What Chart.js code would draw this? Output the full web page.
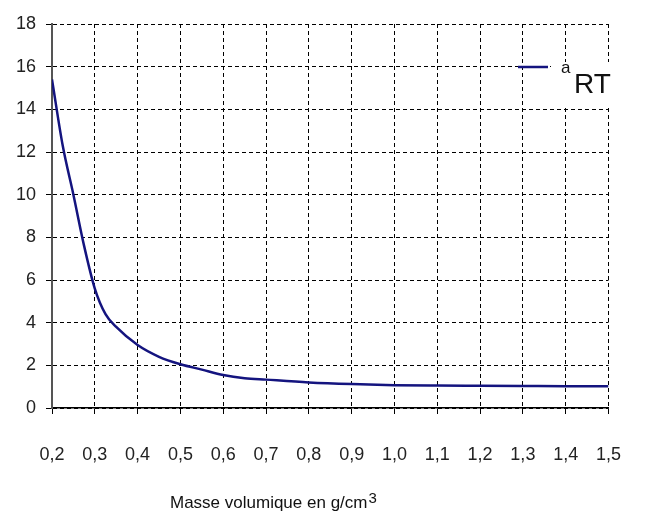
<!DOCTYPE html>
<html>
<head>
<meta charset="utf-8">
<script src="https://cdn.jsdelivr.net/npm/chart.js@4"></script>
<style>
  html, body { margin: 0; padding: 0; background: #fff; }
  #wrap { width: 651px; height: 519px; }
</style>
</head>
<body>
<div id="wrap"><canvas id="myChart" width="651" height="519"></canvas></div>
<script>
const masse = [0.2, 0.225, 0.25, 0.275, 0.3, 0.325, 0.35, 0.4, 0.45, 0.5, 0.55, 0.6, 0.65, 0.7, 0.8, 0.9, 1.0, 1.1, 1.2, 1.3, 1.4, 1.5];
const aRT = [15.4, 12.3, 10.0, 7.6, 5.6, 4.4, 3.8, 2.95, 2.4, 2.05, 1.8, 1.55, 1.4, 1.33, 1.2, 1.12, 1.07, 1.05, 1.04, 1.03, 1.02, 1.02];
const serieLabel = 'RT';
const serieSup = 'a';
const axeTitre = 'Masse volumique en g/cm';
const axeSup = '3';

const police = '"Liberation Sans", Arial, sans-serif';
const bleu = '#14147f';

const extras = {
    id: 'extras',
    afterDraw(chart) {
        const c = chart.ctx;
        c.save();
        // legende
        c.fillStyle = '#fff';
        c.fillRect(551, 62, 64, 45);
        c.strokeStyle = bleu;
        c.lineWidth = 2.5;
        c.beginPath();
        c.moveTo(518, 67);
        c.lineTo(548, 67);
        c.stroke();
        c.fillStyle = '#111';
        c.textBaseline = 'alphabetic';
        c.textAlign = 'left';
        c.font = '17px ' + police;
        c.fillText(serieSup, 561, 73);
        c.font = '28px ' + police;
        c.fillText(serieLabel, 574, 93);
        // titre axe x
        c.font = '17px ' + police;
        const x0 = 170;
        const w = c.measureText(axeTitre).width;
        c.fillText(axeTitre, x0, 508);
        c.font = '15px ' + police;
        c.fillText(axeSup, x0 + w + 1, 503);
        c.restore();
    }
};

const ctx = document.getElementById('myChart').getContext('2d');
const myChart = new Chart(ctx, {
    type: 'line',
    data: {
        labels: masse,
        datasets: [{
            label: serieSup + serieLabel,
            data: masse.map((x, i) => ({ x: x, y: aRT[i] })),
            borderColor: bleu,
            borderWidth: 2.5,
            pointRadius: 0,
            cubicInterpolationMode: 'monotone',
            fill: false
        }]
    },
    options: {
        responsive: false,
        animation: false,
        layout: { padding: { top: 24, right: 23, left: 0, bottom: 0 } },
        plugins: {
            legend: { display: false },
            tooltip: { enabled: false }
        },
        scales: {
            x: {
                type: 'linear',
                min: 0.2,
                max: 1.5,
                afterFit(scale) { scale.height = 111; },
                ticks: {
                    stepSize: 0.1,
                    padding: 30,
                    color: '#222',
                    font: { family: police, size: 18 },
                    maxRotation: 0,
                    callback: v => (Math.round(v * 10) / 10).toFixed(1).replace('.', ',')
                },
                grid: {
                    color: '#000',
                    lineWidth: 1,
                    tickLength: 6,
                    tickColor: '#000',
                    tickBorderDash: []
                },
                border: { color: '#000', width: 1.5, dash: [4, 3] }
            },
            y: {
                min: 0,
                max: 18,
                afterFit(scale) { scale.width = 52; },
                ticks: {
                    stepSize: 2,
                    padding: 10,
                    color: '#222',
                    font: { family: police, size: 18 }
                },
                grid: {
                    color: '#000',
                    lineWidth: 1,
                    tickLength: 6,
                    tickColor: '#000',
                    tickBorderDash: []
                },
                border: { color: '#555', width: 2, dash: [4, 3] }
            }
        }
    },
    plugins: [extras]
});
</script>
</body>
</html>
